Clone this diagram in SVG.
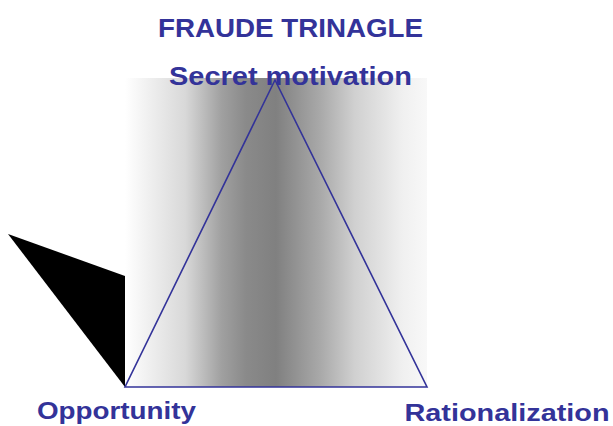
<svg xmlns="http://www.w3.org/2000/svg" width="613" height="426" viewBox="0 0 613 426">
  <style>
    .lbl { font-family: "Liberation Sans", Arial, sans-serif; font-weight: bold; fill: #333399; }
  </style>
  <defs>
    <linearGradient id="shade" x1="0" y1="0" x2="1" y2="0">
      <stop offset="0" stop-color="#ffffff"/>
      <stop offset="0.2" stop-color="#d8d8d8"/>
      <stop offset="0.32" stop-color="#a0a0a0"/>
      <stop offset="0.4" stop-color="#8a8a8a"/>
      <stop offset="0.5" stop-color="#808080"/>
      <stop offset="0.65" stop-color="#aaaaaa"/>
      <stop offset="0.76" stop-color="#d0d0d0"/>
      <stop offset="0.92" stop-color="#f0f0f0"/>
      <stop offset="1" stop-color="#f8f8f8"/>
    </linearGradient>
  </defs>

  <rect width="613" height="426" fill="#ffffff"/>

  <!-- shaded backdrop -->
  <rect x="125" y="78" width="302" height="309" fill="url(#shade)"/>

  <!-- black wedge -->
  <g id="wedge">
    <polygon points="8,234 125,276 125,387" fill="#000000"/>
  </g>

  <!-- triangle edges -->
  <g id="connectors" fill="none" stroke="#333399" stroke-width="1.6">
    <polygon points="275,80 125,387 427,387"/>
  </g>

  <g id="title">
    <text class="lbl" x="290.5" y="37" font-size="25" text-anchor="middle" textLength="265" lengthAdjust="spacingAndGlyphs">FRAUDE TRINAGLE</text>
  </g>
  <g id="motivation">
    <text class="lbl" x="290.5" y="85" font-size="25" text-anchor="middle" textLength="243" lengthAdjust="spacingAndGlyphs">Secret motivation</text>
  </g>
  <g id="opportunity">
    <text class="lbl" x="116.5" y="419" font-size="24" text-anchor="middle" textLength="159" lengthAdjust="spacingAndGlyphs">Opportunity</text>
  </g>
  <g id="rationalization">
    <text class="lbl" x="507" y="421" font-size="24" text-anchor="middle" textLength="205" lengthAdjust="spacingAndGlyphs">Rationalization</text>
  </g>
</svg>
